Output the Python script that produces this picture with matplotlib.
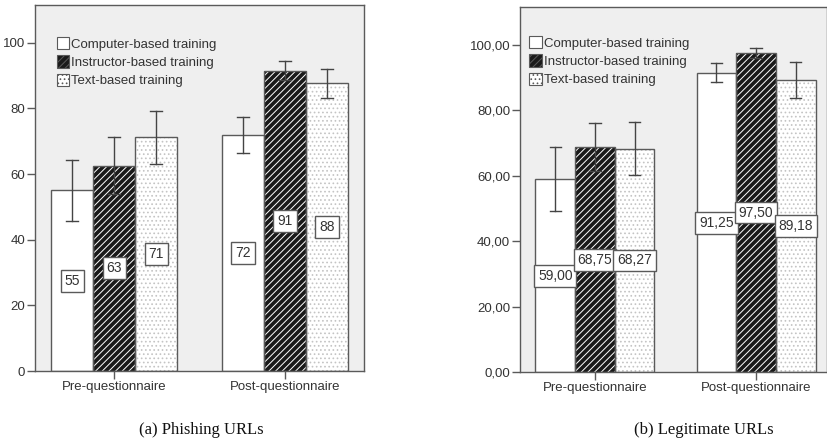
import matplotlib
matplotlib.use("Agg")
import matplotlib.pyplot as plt
import numpy as np

groups = ["Pre-questionnaire", "Post-questionnaire"]
series = ["Computer-based training", "Instructor-based training", "Text-based training"]

# phishing URLs (a)
phish_vals = [[55.0, 71.9], [62.6, 91.5], [71.2, 87.6]]
phish_lo = [[45.6, 66.4], [53.8, 88.7], [63.2, 83.1]]
phish_hi = [[64.4, 77.3], [71.4, 94.3], [79.2, 92.0]]
phish_labels = [["55", "72"], ["63", "91"], ["71", "88"]]

# legitimate URLs (b)
legit_vals = [[59.00, 91.25], [68.75, 97.50], [68.27, 89.18]]
legit_lo = [[49.3, 88.5], [61.5, 96.0], [60.2, 83.6]]
legit_hi = [[68.8, 94.3], [76.0, 99.0], [76.4, 94.7]]
legit_labels = [["59,00", "91,25"], ["68,75", "97,50"], ["68,27", "89,18"]]

yticks = [0, 20, 40, 60, 80, 100]

plt.rcParams["font.family"] = ["Liberation Sans", "DejaVu Sans"]
plt.rcParams["hatch.linewidth"] = 0.7

BG = "#efefef"
EDGE = "#5a5a5a"
TXT = "#333333"

fills = [
    dict(facecolor="white", hatch=None, hcolor="white"),
    dict(facecolor="#1a1a1a", hatch="/////", hcolor="white"),
    dict(facecolor="white", hatch="....", hcolor="#c4c4c4"),
]


def draw_panel(ax, vals, lo, hi, labels, tick_fmt, xmax, leg_anchor):
    x = np.arange(len(groups))
    w = 0.246
    offsets = [-w, 0, w]
    for i in range(len(series)):
        pos = x + offsets[i]
        f = fills[i]
        if f["hatch"]:
            ax.bar(pos, vals[i], w, facecolor=f["facecolor"], edgecolor=f["hcolor"],
                   hatch=f["hatch"], linewidth=0, zorder=2)
        else:
            ax.bar(pos, vals[i], w, facecolor=f["facecolor"], linewidth=0, zorder=2)
        ax.bar(pos, vals[i], w, fill=False, edgecolor=EDGE, linewidth=1.0, zorder=3)
        for j in range(len(groups)):
            ax.plot([pos[j], pos[j]], [lo[i][j], hi[i][j]], color="#444444", lw=1.0, zorder=4)
            ax.plot([pos[j] - 0.035, pos[j] + 0.035], [hi[i][j], hi[i][j]], color="#444444", lw=1.0, zorder=4)
            ax.plot([pos[j] - 0.035, pos[j] + 0.035], [lo[i][j], lo[i][j]], color="#444444", lw=1.0, zorder=4)
            ax.text(pos[j], vals[i][j] / 2, labels[i][j], ha="center", va="center",
                    fontsize=10, color=TXT, zorder=5,
                    bbox=dict(boxstyle="square,pad=0.28", facecolor="white", edgecolor=EDGE, lw=1.0))

    ax.set_facecolor(BG)
    ax.set_xlim(-0.465, xmax)
    ax.set_ylim(0, 111.5)
    ax.set_yticks(yticks)
    ax.set_yticklabels([tick_fmt(v) for v in yticks])
    ax.set_xticks(x)
    ax.set_xticklabels(groups)
    ax.tick_params(axis="both", direction="out", length=6, width=1.0, color=EDGE,
                   labelcolor=TXT, labelsize=9.5, pad=1)
    for s in ax.spines.values():
        s.set_color(EDGE)
        s.set_linewidth(1.0)

    handles = [plt.Rectangle((0, 0), 1, 1, facecolor=fills[k]["facecolor"],
                             hatch=fills[k]["hatch"], edgecolor=fills[k]["hcolor"], linewidth=0)
               for k in range(3)]
    leg = ax.legend(handles, series, loc="upper left", bbox_to_anchor=leg_anchor,
                    frameon=False, fontsize=9.5, handlelength=0.95, handleheight=1.05,
                    handletextpad=0.15, labelspacing=0.35, borderaxespad=0, borderpad=0)
    for t in leg.get_texts():
        t.set_color(TXT)
    for p in leg.get_patches():
        p.set_edgecolor(EDGE)
        p.set_linewidth(0.8)


fig = plt.figure(figsize=(8.27, 4.45), dpi=100)
ax1 = fig.add_axes([35 / 827, 74 / 445, 329 / 827, 366 / 445])
ax2 = fig.add_axes([520 / 827, 72.7 / 445, 307 / 827, 365.3 / 445])

draw_panel(ax1, phish_vals, phish_lo, phish_hi, phish_labels, lambda v: "%d" % v, 1.463,
           (0.066, 0.912))
draw_panel(ax2, legit_vals, legit_lo, legit_hi, legit_labels,
           lambda v: ("%.2f" % v).replace(".", ","), 1.44, (0.03, 0.92))

fig.text(201 / 827, 1 - 430 / 445, "(a) Phishing URLs", ha="center", va="center",
         fontsize=12, family=["Liberation Serif", "DejaVu Serif"], color="#111111")
fig.text(704 / 827, 1 - 430 / 445, "(b) Legitimate URLs", ha="center", va="center",
         fontsize=12, family=["Liberation Serif", "DejaVu Serif"], color="#111111")

fig.savefig("out.png", dpi=100, facecolor="white")
